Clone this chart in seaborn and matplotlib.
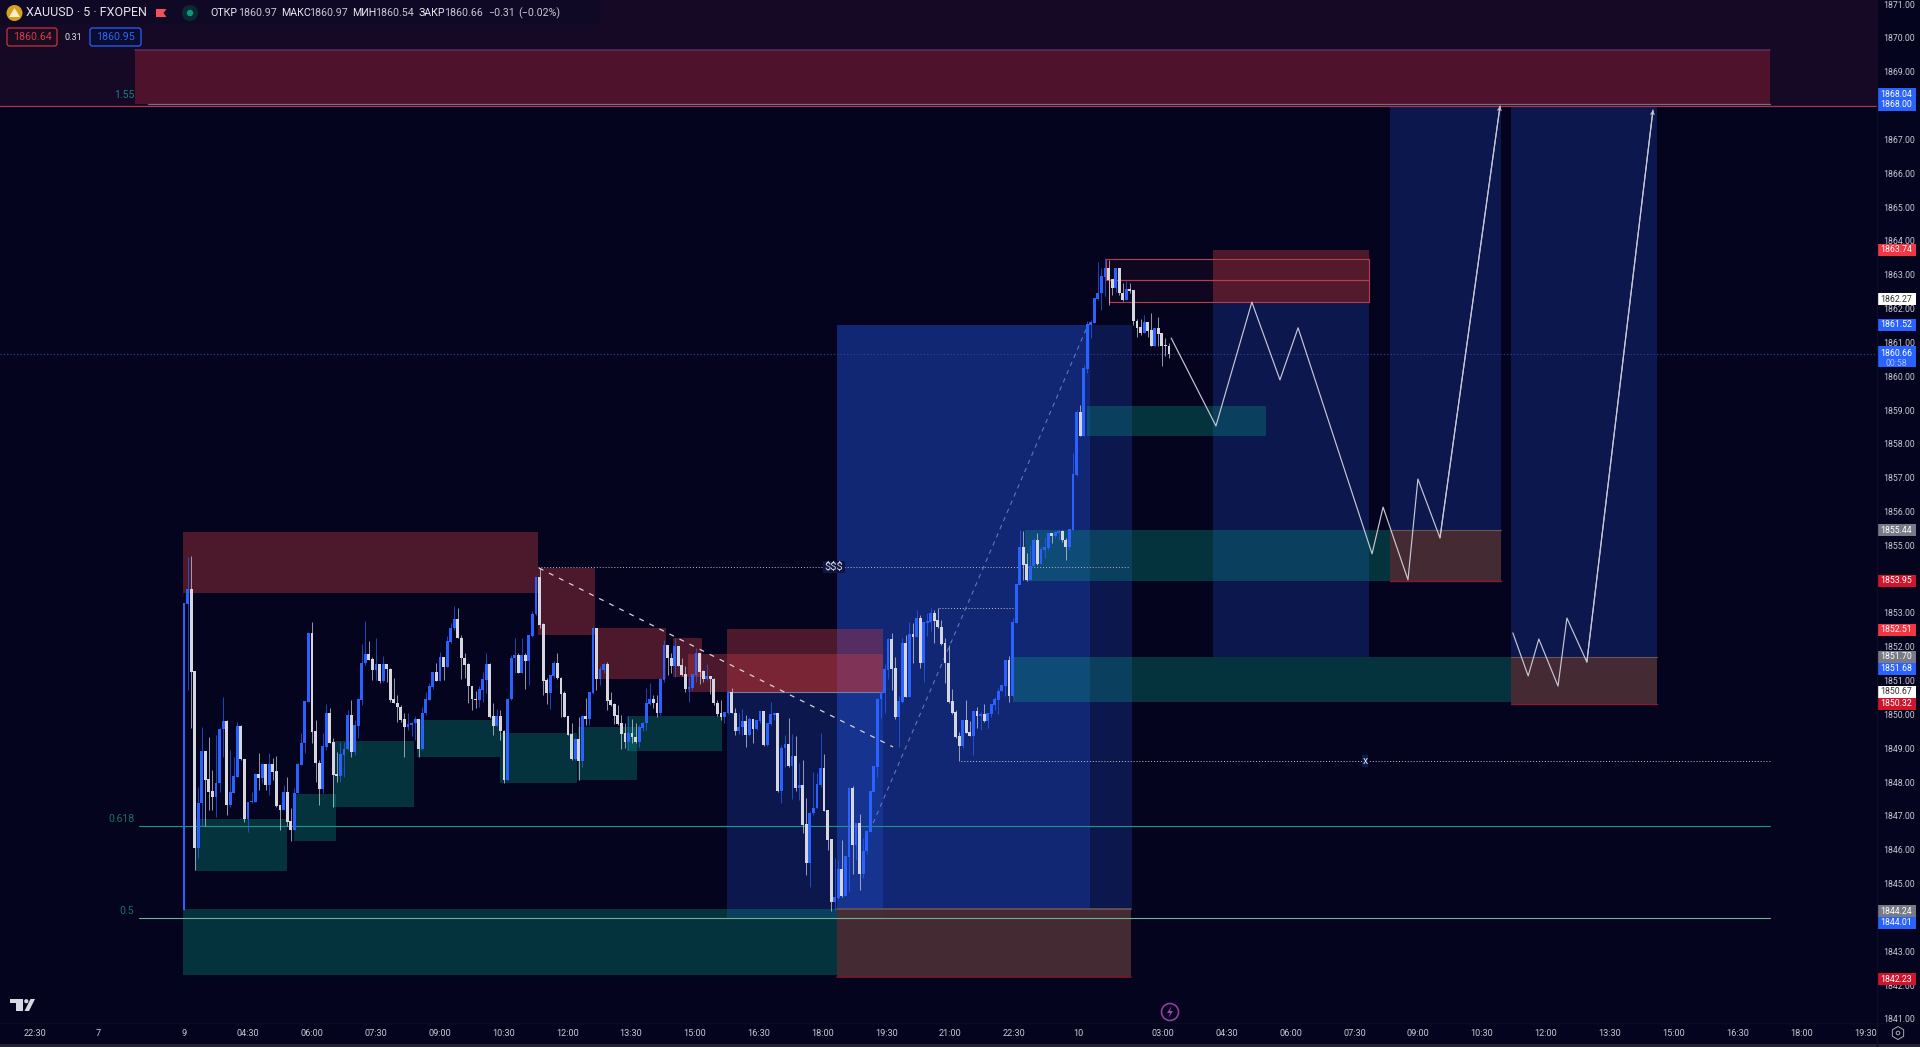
import seaborn as sns
import matplotlib.pyplot as plt
from matplotlib.patches import Rectangle, FancyBboxPatch, Circle, Polygon, RegularPolygon
from matplotlib.transforms import blended_transform_factory

# XAUUSD 5m candles (bar 0 = the "9" tick)
first_open = 1844.22
closes = [
    1853.28,1853.68,1851.26,1846.06,1847.37,1848.90,1848.06,1847.72,1847.57,1847.96,
    1849.56,1849.79,1847.33,1847.69,1848.16,1849.64,1848.67,1846.90,1847.40,1847.42,
    1848.21,1848.11,1848.51,1847.92,1848.51,1848.31,1847.30,1847.18,1847.70,1846.83,
    1846.59,1847.67,1848.51,1849.15,1850.38,1852.38,1849.49,1848.56,1847.79,1849.05,
    1850.03,1849.17,1848.21,1848.18,1848.80,1848.97,1849.96,1848.90,1849.66,1850.43,
    1851.51,1851.76,1851.61,1851.31,1851.46,1851.00,1851.46,1851.33,1850.43,1850.33,
    1850.21,1849.84,1849.64,1849.69,1849.74,1849.86,1848.97,1850.03,1850.43,1850.82,
    1851.24,1851.00,1851.69,1851.39,1852.15,1852.55,1852.79,1852.25,1851.66,1851.47,
    1850.83,1850.45,1850.43,1850.73,1851.02,1851.47,1849.94,1849.65,1849.94,1849.50,
    1848.07,1850.45,1851.66,1851.73,1851.24,1851.73,1851.57,1852.32,1852.96,1854.03,
    1852.65,1851.00,1850.63,1851.14,1851.50,1851.07,1850.61,1849.94,1849.40,1848.68,
    1849.25,1848.61,1849.94,1849.86,1850.63,1852.55,1851.04,1851.32,1851.47,1850.41,
    1850.29,1849.96,1849.72,1849.43,1849.20,1849.43,1849.32,1849.20,1849.60,1849.74,
    1850.32,1850.43,1850.33,1850.04,1851.02,1852.03,1851.66,1851.44,1851.99,1851.44,
    1851.17,1850.75,1850.78,1851.17,1851.81,1851.27,1851.04,1851.12,1851.04,1850.33,
    1850.02,1849.94,1850.04,1850.65,1850.03,1849.52,1849.62,1849.79,1849.39,1849.86,
    1849.56,1849.82,1850.08,1849.10,1849.72,1849.98,1850.03,1847.75,1849.00,1849.10,
    1848.48,1848.75,1847.82,1847.89,1846.73,1845.62,1847.08,1847.23,1847.92,1848.41,
    1847.16,1846.29,1844.47,1844.57,1845.42,1844.64,1845.80,1847.82,1846.14,1846.78,
    1845.29,1845.95,1846.54,1847.72,1848.46,1850.45,1850.63,1851.32,1852.20,1851.34,
    1849.92,1850.38,1852.10,1850.53,1852.35,1852.28,1852.84,1851.53,1852.71,1852.73,
    1852.97,1852.77,1852.58,1852.08,1851.51,1850.38,1850.04,1849.33,1849.07,1849.82,
    1849.46,1849.37,1850.08,1849.96,1849.99,1849.82,1850.02,1850.28,1850.43,1850.68,
    1850.84,1851.59,1850.55,1852.70,1853.84,1854.92,1854.43,1853.98,1854.38,1855.15,
    1854.46,1854.87,1854.92,1855.34,1855.28,1855.36,1855.40,1855.15,1854.95,1855.46,
    1857.09,1858.91,1858.22,1860.21,1861.52,1861.57,1862.28,1862.45,1862.93,1863.19,
    1862.85,1862.60,1863.19,1862.45,1862.26,1862.55,1862.53,1861.62,1861.42,1861.29,
    1861.57,1861.35,1860.88,1861.39,1861.25,1860.90,1860.88,1860.66,
]
highs = [
    1853.30,1854.66,1854.68,1851.29,1847.87,1849.64,1848.90,1849.34,1848.36,1849.39,
    1849.59,1850.53,1849.84,1848.95,1848.75,1849.79,1849.69,1848.67,1847.42,1847.72,
    1848.26,1848.85,1848.56,1848.46,1848.85,1848.70,1848.77,1847.33,1847.92,1848.14,
    1847.23,1847.82,1848.56,1849.44,1850.38,1852.45,1852.74,1849.84,1848.65,1849.44,
    1850.31,1850.18,1849.29,1848.90,1849.20,1849.20,1850.13,1850.43,1849.84,1850.48,
    1852.08,1852.76,1852.18,1851.69,1852.25,1851.46,1851.73,1851.41,1851.36,1851.07,
    1850.57,1850.28,1850.03,1850.03,1849.79,1849.95,1849.82,1850.23,1850.67,1850.92,
    1851.26,1851.51,1851.86,1851.66,1852.32,1852.69,1853.21,1853.14,1852.35,1851.81,
    1851.52,1850.83,1850.68,1850.83,1851.27,1851.83,1851.52,1850.33,1850.16,1850.14,
    1849.55,1850.48,1851.76,1852.26,1851.81,1852.26,1851.81,1852.35,1853.07,1854.03,
    1854.32,1852.70,1851.07,1851.17,1851.57,1851.81,1851.12,1850.68,1849.94,1849.74,
    1849.30,1849.94,1849.99,1850.48,1850.65,1852.60,1852.55,1851.42,1851.52,1851.54,
    1850.65,1850.33,1850.29,1849.99,1849.74,1849.96,1849.86,1849.74,1849.69,1849.79,
    1850.78,1850.93,1850.58,1850.58,1851.07,1852.21,1852.06,1851.81,1852.26,1851.83,
    1851.66,1851.44,1851.12,1851.20,1851.96,1851.81,1851.32,1851.50,1851.14,1851.07,
    1850.43,1850.43,1850.06,1850.71,1850.77,1850.18,1850.03,1850.15,1849.99,1849.94,
    1849.84,1849.84,1850.08,1850.08,1849.74,1850.38,1850.03,1850.03,1849.10,1849.39,
    1849.89,1849.42,1849.36,1848.56,1848.65,1847.52,1847.13,1848.31,1848.26,1849.44,
    1848.83,1847.18,1846.29,1845.75,1845.70,1846.29,1845.80,1847.87,1847.89,1846.80,
    1847.06,1846.34,1846.59,1847.72,1848.48,1850.48,1850.68,1851.49,1852.25,1852.42,
    1851.71,1850.55,1852.25,1852.35,1852.74,1852.71,1853.09,1852.94,1852.71,1853.01,
    1853.14,1853.09,1853.14,1852.79,1852.25,1852.05,1850.75,1850.13,1849.49,1849.84,
    1850.43,1849.82,1850.11,1850.23,1850.08,1850.31,1850.02,1850.28,1850.53,1850.77,
    1850.87,1851.61,1851.73,1852.84,1853.84,1855.46,1855.41,1854.77,1855.02,1855.21,
    1855.36,1854.99,1855.26,1855.36,1855.36,1855.41,1855.44,1855.44,1855.21,1855.48,
    1857.73,1859.01,1859.15,1860.34,1861.62,1861.67,1862.31,1863.39,1863.19,1863.49,
    1863.42,1862.85,1863.19,1863.19,1862.75,1862.80,1862.75,1862.55,1861.69,1861.69,
    1861.81,1861.59,1861.88,1861.39,1861.74,1861.12,1861.12,1860.97,
]
lows = [
    1844.22,1850.72,1849.59,1845.40,1845.75,1846.70,1846.70,1847.18,1847.18,1846.98,
    1847.72,1848.75,1847.03,1847.27,1847.67,1848.16,1848.65,1846.83,1846.54,1847.37,
    1847.40,1847.77,1847.96,1847.77,1847.62,1848.06,1847.27,1846.59,1847.18,1846.70,
    1846.27,1846.59,1847.67,1848.51,1848.85,1850.43,1849.15,1848.01,1847.33,1847.67,
    1848.95,1849.15,1847.27,1848.01,1848.01,1848.16,1848.95,1848.73,1848.80,1849.29,
    1850.28,1851.46,1851.61,1851.02,1851.02,1850.92,1850.97,1850.97,1850.38,1850.33,
    1849.79,1849.79,1848.73,1849.54,1849.36,1849.25,1848.75,1848.95,1849.98,1850.43,
    1850.74,1851.00,1851.00,1851.02,1851.39,1852.10,1852.50,1852.25,1851.04,1851.07,
    1850.33,1850.12,1850.19,1850.22,1850.38,1850.63,1849.89,1849.40,1849.65,1849.25,
    1847.97,1848.07,1850.43,1851.22,1851.22,1851.22,1850.75,1850.88,1852.28,1852.94,
    1852.55,1850.58,1850.32,1850.16,1851.07,1851.04,1849.94,1849.92,1849.40,1848.66,
    1848.66,1848.07,1848.46,1849.69,1849.69,1850.61,1850.71,1850.88,1851.22,1850.12,
    1850.24,1849.72,1849.69,1848.98,1849.00,1848.94,1849.15,1849.15,1849.05,1849.50,
    1849.55,1850.29,1850.19,1849.94,1849.99,1850.97,1851.17,1851.22,1851.10,1851.42,
    1851.14,1850.67,1850.38,1850.71,1850.97,1850.91,1850.97,1851.02,1850.61,1850.29,
    1849.96,1849.84,1849.76,1850.02,1850.03,1849.39,1849.42,1849.39,1849.03,1849.36,
    1849.17,1849.54,1849.74,1849.07,1849.07,1849.69,1849.84,1847.72,1847.37,1848.46,
    1848.46,1847.49,1847.75,1847.47,1846.49,1845.26,1844.91,1847.03,1847.23,1847.87,
    1847.16,1846.00,1844.20,1844.22,1844.54,1844.60,1844.62,1844.79,1845.29,1845.70,
    1844.81,1845.16,1845.88,1846.54,1847.72,1848.16,1849.89,1850.04,1851.04,1850.73,
    1849.86,1849.05,1850.33,1850.51,1850.51,1851.53,1852.28,1851.37,1850.97,1852.32,
    1852.48,1852.12,1852.55,1852.05,1850.94,1850.33,1850.02,1849.30,1848.61,1849.00,
    1849.44,1849.35,1848.80,1849.59,1849.54,1849.79,1849.59,1849.94,1850.13,1850.02,
    1850.68,1850.55,1850.38,1850.53,1852.70,1853.96,1853.98,1853.96,1853.98,1854.38,
    1854.43,1854.46,1854.62,1854.87,1855.07,1855.21,1855.16,1855.10,1854.57,1854.87,
    1855.46,1857.04,1858.22,1858.22,1860.09,1861.12,1861.57,1862.26,1861.96,1862.36,
    1862.11,1862.40,1862.50,1862.40,1862.21,1862.26,1862.45,1861.52,1861.15,1861.22,
    1861.29,1861.15,1860.88,1860.88,1860.88,1860.31,1860.60,1860.54,
]
assert len(closes) == len(highs) == len(lows)

# zones: bar from, bar to, price top, price bottom
red_zones = [(-0.3, 99.5, 1855.40, 1853.59), (99.5, 115.6, 1854.33, 1852.35),
             (115.6, 135.5, 1852.56, 1851.05), (137.5, 145.7, 1852.26, 1851.11),
             (141.7, 196.6, 1851.79, 1850.67), (152.7, 196.6, 1852.53, 1850.67),
             (289.4, 333.2, 1863.74, 1862.19)]
green_zones = [(3.1, 29, 1846.91, 1845.37), (30.9, 42.7, 1847.65, 1846.26),
               (41.9, 64.7, 1849.22, 1847.27), (65.5, 88.9, 1849.84, 1848.74),
               (88.9, 110.5, 1849.45, 1847.98), (110.8, 127.4, 1849.63, 1848.06),
               (124.6, 151.3, 1849.96, 1848.92), (-0.3, 183.6, 1844.24, 1842.30),
               (236.5, 339.1, 1855.44, 1853.95), (233.1, 373.2, 1851.70, 1850.37),
               (253.9, 304.3, 1859.12, 1858.23)]
dark_blue_zones = [(152.7, 196.6, 1850.67, 1843.99), (254.8, 266.6, 1861.52, 1844.24),
                   (289.4, 333.2, 1862.19, 1851.70), (339.1, 370.4, 1868.00, 1855.44),
                   (373.2, 414.2, 1868.00, 1851.70)]
bright_blue_zones = [(183.6, 254.8, 1861.52, 1844.24)]
brown_zones = [(183.6, 266.3, 1844.24, 1842.23), (339.1, 370.4, 1855.44, 1853.95),
               (373.2, 414.2, 1851.70, 1850.32)]
top_zone = (-13.8, 446, 1869.64, 1868.04)
outline_zones = [(259.3, 333.2, 1863.47, 1862.84), (260.1, 333.2, 1862.84, 1862.19)]

# projected paths
path1_bars = [277.6, 290.2, 300.3, 308.2, 313.3, 334.1, 337.2, 344.2, 347, 353.2, 370.1]
path1_prices = [1861.13, 1858.53, 1862.19, 1859.89, 1861.43, 1854.75, 1856.13, 1853.98, 1856.96, 1855.22, 1867.99]
path2_bars = [373.7, 378, 381, 386.4, 388.9, 394.5, 413.1]
path2_prices = [1852.41, 1851.14, 1852.23, 1850.84, 1852.85, 1851.55, 1867.87]

# axis labels
tick_bars = [-42, -24, 0, 18, 36, 54, 72, 90, 107.8, 125.7, 143.6, 161.5, 179.5, 197.5, 215.5, 233.4, 251.4,
             275.4, 293.3, 311.2, 329.2, 347.1, 365, 383, 401, 419, 437, 455, 473]
tick_labels = ['22:30', '7', '9', '04:30', '06:00', '07:30', '09:00', '10:30', '12:00', '13:30',
               '15:00', '16:30', '18:00', '19:30', '21:00', '22:30', '10', '03:00', '04:30',
               '06:00', '07:30', '09:00', '10:30', '12:00', '13:30', '15:00', '16:30', '18:00', '19:30']
price_ticks = list(range(1841, 1872))

# price tags: label, where it sits on the scale, fill, text colour
tags = [('1868.04', 1868.34, '#2962ff', 'white'), ('1868.00', 1868.02, '#2962ff', 'white'),
        ('1863.74', 1863.74, '#f23645', 'white'), ('1862.27', 1862.27, 'white', '#333333'),
        ('1861.52', 1861.52, '#2962ff', 'white'), ('1855.44', 1855.44, '#787b86', 'white'),
        ('1853.95', 1853.95, '#d0142c', 'white'), ('1852.51', 1852.51, '#f23645', 'white'),
        ('1851.70', 1851.70, '#787b86', 'white'), ('1851.68', 1851.35, '#2962ff', 'white'),
        ('1850.67', 1850.67, 'white', '#333333'), ('1850.32', 1850.32, '#d0142c', 'white'),
        ('1844.24', 1844.19, '#787b86', 'white'), ('1844.01', 1843.84, '#2962ff', 'white'),
        ('1842.23', 1842.17, '#d0142c', 'white')]

BG = '#04041e'
UP = '#2962ff'
DOWN = '#d6d6de'
TXT = '#c8c8d4'

sns.set_theme(style='dark', rc={'axes.facecolor': BG, 'figure.facecolor': BG, 'savefig.facecolor': BG,
                                'xtick.color': TXT, 'ytick.color': TXT, 'axes.grid': False})
plt.rcParams['font.family'] = ['Roboto', 'DejaVu Sans']

fig = plt.figure(figsize=(19.2, 10.47), dpi=100)
ax = fig.add_axes([0, 1 - 1023 / 1047, 1877 / 1920, 1023 / 1047])
sns.despine(ax=ax, left=True, bottom=True, right=True, top=True)


def zones(items, color, alpha, z=1.0):
    for x0, x1, top, bottom in items:
        ax.add_patch(Rectangle((x0, bottom), x1 - x0, top - bottom, fc=color, ec='none', alpha=alpha, zorder=z))


def level(bars, prices, color, lw=0.8, ls='-', z=2.0, alpha=1.0):
    sns.lineplot(x=bars, y=prices, ax=ax, color=color, lw=lw, ls=ls, sort=False, estimator=None,
                 errorbar=None, legend=False, zorder=z, alpha=alpha)


# upper band above the 1868 level
ax.axhspan(1868.0, 1872, color='#2a1030', alpha=0.45, lw=0, zorder=0.5)

zones(dark_blue_zones, UP, 0.21)
zones(bright_blue_zones, UP, 0.38)
zones(green_zones, '#089981', 0.32, 1.2)
zones(red_zones, '#c83c46', 0.37, 1.3)
zones(brown_zones, '#4a2f35', 0.93, 1.4)
zones([top_zone], '#c8283c', 0.32, 1.3)
zones(outline_zones, '#c83c46', 0.06, 1.5)
for x0, x1, top, bottom in outline_zones:
    ax.add_patch(Rectangle((x0, bottom), x1 - x0, top - bottom, fc='none', ec='#b83e4e', lw=0.8, zorder=2))

# zone edges
level([-13.8, 446], [1869.64, 1869.64], '#5e2e64', lw=1.1)
level([-10, 446], [1868.06, 1868.06], '#7a6c7a', lw=0.9)
level([183.6, 266.3], [1844.24, 1844.24], '#6a5458', lw=1.2, z=2)
level([183.6, 266.3], [1842.23, 1842.23], '#7a1a2c', lw=1.2, z=2)
level([339.1, 370.4], [1853.95, 1853.95], '#8a1a2c', lw=1.0, z=2)
level([373.2, 414.2], [1850.32, 1850.32], '#8a1a2c', lw=1.0, z=2)
level([339.1, 370.4], [1855.44, 1855.44], '#6a5458', lw=0.8, z=2)
level([373.2, 414.2], [1851.70, 1851.70], '#6a5458', lw=0.8, z=2)

# fib levels and price lines
ax.axhline(1868.0, color='#a63a4a', lw=0.9, zorder=3)
ax.axhline(1860.66, color='#2c4a9c', lw=0.8, ls=(0, (1, 2)), zorder=3)
level([-12.6, 446], [1846.70, 1846.70], '#1f9488', lw=0.8, z=3)
level([-12.6, 446], [1843.98, 1843.98], '#74b090', lw=0.8, z=3)
level([99.5, 265.8], [1854.36, 1854.36], '#b8b8c8', lw=0.7, ls=(0, (1, 2)), z=3)
level([218.5, 446], [1848.63, 1848.63], '#c4c4d0', lw=0.7, ls=(0, (1, 2)), z=3)
level([212.3, 233], [1853.15, 1853.15], '#c4c4d0', lw=0.7, ls=(0, (1, 2)), z=3)
level([152.7, 196.6], [1850.67, 1850.67], '#7c7c9c', lw=0.8, z=3)
level([99.8, 199.4], [1854.33, 1849.04], '#dcd0d8', lw=0.9, ls=(0, (4, 5)), z=3.5)
level([193.8, 254.2], [1846.79, 1861.51], '#5a78c0', lw=0.8, ls=(0, (4, 4)), z=3)

# candles
bars = list(range(len(closes)))
opens = [first_open] + closes[:-1]
cols = [UP if c >= o else DOWN for o, c in zip(opens, closes)]
ax.vlines(bars, lows, highs, colors=cols, lw=0.7, alpha=0.7, zorder=4)
ax.bar(bars, [abs(c - o) + 0.02 for o, c in zip(opens, closes)], bottom=[min(o, c) for o, c in zip(opens, closes)],
       width=0.8, color=cols, lw=0, zorder=4.2)

# projection
for px, py in ((path1_bars, path1_prices), (path2_bars, path2_prices)):
    level(px, py, '#c8c8d4', lw=0.85, z=5)
    ax.annotate('', xy=(px[-1], py[-1]), xytext=(px[-2], py[-2]), zorder=5,
                arrowprops=dict(arrowstyle='->', color='#c8c8d4', lw=0.8, mutation_scale=6, shrinkA=0, shrinkB=0))

ax.text(182.8, 1854.36, '$$$', color='#d8d8e2', fontsize=8, ha='center', va='center', zorder=6,
        bbox=dict(fc='#0c1640', ec='none', pad=1))
ax.text(332.1, 1848.63, 'x', color='#e8e8f0', fontsize=7.5, ha='center', va='center', zorder=6,
        bbox=dict(fc='#0c1a4c', ec='none', pad=0.6))
ax.text(-14.0, 1868.30, '1.55', color='#1f7d86', fontsize=7.5, ha='right', va='center', zorder=6)
ax.text(-14.0, 1846.92, '0.618', color='#1c7060', fontsize=7.5, ha='right', va='center', zorder=6)
ax.text(-14.0, 1844.18, '0.5', color='#1c7060', fontsize=7.5, ha='right', va='center', zorder=6)

ax.set_xlim(-51.74, 476.1)
ax.set_ylim(1840.88, 1871.12)
ax.set_xticks(tick_bars, tick_labels, fontsize=6.6)
ax.yaxis.tick_right()
ax.set_yticks(price_ticks, [f'{p:.2f}' for p in price_ticks], fontsize=6.3)
ax.tick_params(axis='x', length=0, pad=4.3, colors=TXT)
ax.tick_params(axis='y', length=0, pad=4.3, colors=TXT)
ax.set_xlabel('')
ax.set_ylabel('')

# price tags on the scale
tr = blended_transform_factory(ax.transAxes, ax.transData)
tag_w = 39 / 1877
tag_h = 12 / 33.83
for label, pos, fill, tcol in tags:
    ax.add_patch(Rectangle((1, pos - tag_h / 2), tag_w, tag_h, transform=tr, fc=fill, ec='none', clip_on=False, zorder=10))
    ax.text(1 + tag_w / 2, pos, label, transform=tr, color=tcol, fontsize=6.3, ha='center', va='center', zorder=11, clip_on=False)
ax.add_patch(Rectangle((1, 1860.26), tag_w, 0.62, transform=tr, fc=UP, ec='none', clip_on=False, zorder=10))
ax.text(1 + tag_w / 2, 1860.66, '1860.66', transform=tr, color='white', fontsize=6.3, ha='center', va='center', zorder=11)
ax.text(1 + tag_w / 2, 1860.37, '00:58', transform=tr, color='#a8c0ff', fontsize=6.3, ha='center', va='center', zorder=11)

# chart furniture on a pixel overlay
ov = fig.add_axes([0, 0, 1, 1], facecolor='none', zorder=20)
ov.set_xlim(0, 1920)
ov.set_ylim(1047, 0)
ov.axis('off')
ov.add_patch(Rectangle((0, 0), 600, 25, fc='#0d0a26', ec='none', alpha=0.5))
ov.add_patch(Circle((14.5, 13), 8, fc='#d8a01c', ec='none'))
ov.add_patch(Polygon([(14.5, 8), (20, 17), (9, 17)], fc='#fbeec8', ec='none'))
ov.text(26, 13, 'XAUUSD · 5 · FXOPEN', color='#e4e4ec', fontsize=9.0, va='center')
ov.add_patch(Polygon([(156, 9), (166.5, 9), (163.5, 13), (166.5, 17), (156, 17)], fc='#f2505a', ec='none'))
ov.add_patch(Circle((190, 13), 8, fc='#0a2a30', ec='none'))
ov.add_patch(Circle((190, 13), 3.2, fc='#089981', ec='none'))
header = [(210, 'ОТКР', '#e8e8f0'), (238, '1860.97', TXT), (281, 'МАКС', '#e8e8f0'), (309, '1860.97', TXT),
          (352, 'МИН', '#e8e8f0'), (375.5, '1860.54', TXT), (419, 'ЗАКР', '#e8e8f0'), (444, '1860.66', TXT),
          (488, '−0.31', TXT), (518, '(−0.02%)', TXT)]
for hx, htext, hcol in header:
    ov.text(hx, 13, htext, color=hcol, fontsize=7.7, va='center')
ov.add_patch(FancyBboxPatch((7, 28), 50, 18, boxstyle='round,pad=0,rounding_size=2.5', fc='#180c22', ec='#c8323f', lw=0.9))
ov.text(32.5, 37, '1860.64', color='#d83a48', fontsize=7.7, ha='center', va='center')
ov.text(73.5, 37, '0.31', color='#e0e0e8', fontsize=6.6, ha='center', va='center')
ov.add_patch(FancyBboxPatch((90, 28), 51, 18, boxstyle='round,pad=0,rounding_size=2.5', fc='#0a0c30', ec='#2962ff', lw=0.9))
ov.text(115.5, 37, '1860.95', color='#2f66f0', fontsize=7.7, ha='center', va='center')

# logo, bolt button, settings
ov.add_patch(Rectangle((10, 999), 13, 4.2, fc='#d8d8e4', ec='none'))
ov.add_patch(Rectangle((15.5, 999), 7.5, 12, fc='#d8d8e4', ec='none'))
ov.add_patch(Circle((26.3, 1001.2), 2.1, fc='#d8d8e4', ec='none'))
ov.add_patch(Polygon([(24.5, 1011), (29, 1011), (35, 999), (30.5, 999)], fc='#d8d8e4', ec='none'))
ov.add_patch(Circle((1170, 1012), 8.5, fc='none', ec='#8e3f9e', lw=1.2))
ov.add_patch(Polygon([(1171.5, 1006), (1167, 1013), (1170, 1013), (1168.5, 1018), (1173, 1011), (1170, 1011)], fc='#9a48aa', ec='none'))
ov.add_patch(RegularPolygon((1898, 1033), 6, radius=6.5, fc='none', ec='#a8a8b4', lw=0.7))
ov.add_patch(Circle((1898, 1033), 1.8, fc='none', ec='#a8a8b4', lw=0.7))
ov.plot([0, 1920], [1023, 1023], color='#0a0a22', lw=1)
ov.plot([1877, 1877], [0, 1047], color='#0e0e26', lw=1)
ov.add_patch(Rectangle((0, 1044), 1920, 3, fc='#24242e', ec='none'))

fig.savefig('out.png', dpi=100)
